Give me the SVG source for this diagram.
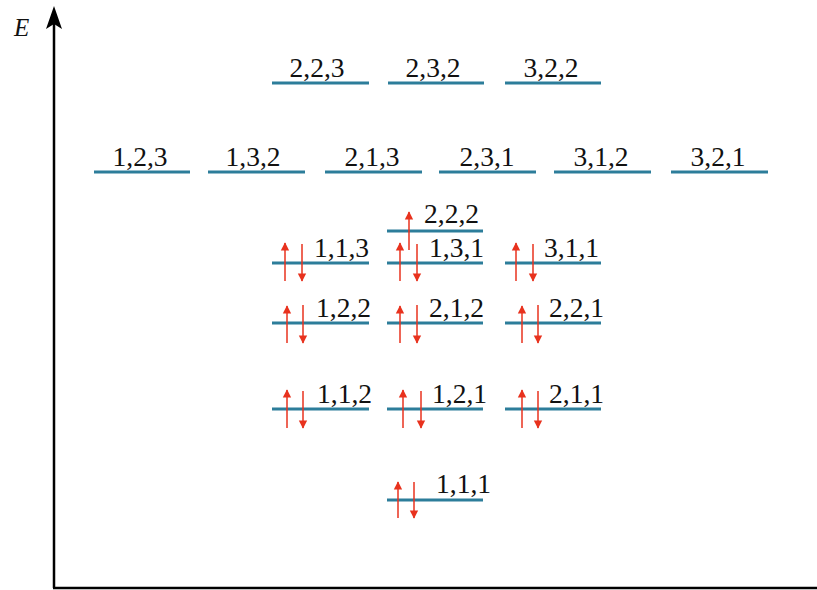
<svg xmlns="http://www.w3.org/2000/svg" width="817" height="590" viewBox="0 0 817 590">
<defs>
<marker id="ah" viewBox="0 0 10 12" refX="9" refY="6" markerWidth="10" markerHeight="10" markerUnits="userSpaceOnUse" orient="auto">
<path d="M0,1 L10,6 L0,11 Z" fill="#e8321e"/>
</marker>
<style>
.lv{stroke:#2c7d9a;stroke-width:3;fill:none}
.t{font-family:"Liberation Serif","Times New Roman",serif;font-size:27.5px;fill:#111}
.c{text-anchor:middle}
.sp{stroke:#e8321e;stroke-width:1.5;fill:none;marker-end:url(#ah)}
.ax{stroke:#000;stroke-width:2.5;fill:none}
.e{font-family:"Liberation Serif","Times New Roman",serif;font-style:italic;font-size:25px;fill:#111}
</style>
</defs>
<rect width="817" height="590" fill="#fff"/>
<g id="axes">
<line class="ax" x1="54" y1="22" x2="54" y2="588"/>
<line class="ax" x1="53" y1="588" x2="817" y2="588"/>
<path d="M54,6 L62,29 L54,24 L46,29 Z" fill="#000"/>
<text class="e" x="14" y="36">E</text>
</g>
<g id="level-223"><line class="lv" x1="272" y1="83" x2="369" y2="83"/><text class="t c" x="317" y="77">2,2,3</text></g>
<g id="level-232"><line class="lv" x1="388" y1="83" x2="484" y2="83"/><text class="t c" x="433" y="77">2,3,2</text></g>
<g id="level-322"><line class="lv" x1="505" y1="83" x2="601" y2="83"/><text class="t c" x="551" y="77">3,2,2</text></g>
<g id="level-123"><line class="lv" x1="94" y1="172" x2="190" y2="172"/><text class="t c" x="140" y="166">1,2,3</text></g>
<g id="level-132"><line class="lv" x1="208" y1="172" x2="305" y2="172"/><text class="t c" x="253" y="166">1,3,2</text></g>
<g id="level-213"><line class="lv" x1="325" y1="172" x2="422" y2="172"/><text class="t c" x="372" y="166">2,1,3</text></g>
<g id="level-231"><line class="lv" x1="439" y1="172" x2="536" y2="172"/><text class="t c" x="487" y="166">2,3,1</text></g>
<g id="level-312"><line class="lv" x1="554" y1="172" x2="651" y2="172"/><text class="t c" x="601" y="166">3,1,2</text></g>
<g id="level-321"><line class="lv" x1="671" y1="172" x2="768" y2="172"/><text class="t c" x="718" y="166">3,2,1</text></g>
<g id="level-222"><line class="lv" x1="387" y1="231" x2="483" y2="231"/><text class="t" x="424" y="223">2,2,2</text></g>
<g id="level-113"><line class="lv" x1="272" y1="263" x2="369" y2="263"/><text class="t" x="314" y="257">1,1,3</text></g>
<g id="level-131"><line class="lv" x1="387" y1="263" x2="483" y2="263"/><text class="t" x="429" y="257">1,3,1</text></g>
<g id="level-311"><line class="lv" x1="505" y1="263" x2="601" y2="263"/><text class="t" x="544" y="257">3,1,1</text></g>
<g id="level-122"><line class="lv" x1="272" y1="323" x2="369" y2="323"/><text class="t" x="316" y="317">1,2,2</text></g>
<g id="level-212"><line class="lv" x1="387" y1="323" x2="483" y2="323"/><text class="t" x="429" y="317">2,1,2</text></g>
<g id="level-221"><line class="lv" x1="505" y1="323" x2="601" y2="323"/><text class="t" x="549" y="317">2,2,1</text></g>
<g id="level-112"><line class="lv" x1="272" y1="409" x2="369" y2="409"/><text class="t" x="317" y="403">1,1,2</text></g>
<g id="level-121"><line class="lv" x1="387" y1="409" x2="483" y2="409"/><text class="t" x="432" y="403">1,2,1</text></g>
<g id="level-211"><line class="lv" x1="505" y1="409" x2="601" y2="409"/><text class="t" x="549" y="403">2,1,1</text></g>
<g id="level-111"><line class="lv" x1="387" y1="500" x2="483" y2="500"/><text class="t" x="436" y="493">1,1,1</text></g>
<g id="spins">
<line class="sp" x1="409" y1="250" x2="409" y2="212"/>
<line class="sp" x1="285" y1="281" x2="285" y2="243"/><line class="sp" x1="302" y1="244" x2="302" y2="281"/>
<line class="sp" x1="400" y1="281" x2="400" y2="243"/><line class="sp" x1="417" y1="244" x2="417" y2="281"/>
<line class="sp" x1="516" y1="281" x2="516" y2="243"/><line class="sp" x1="533" y1="244" x2="533" y2="281"/>
<line class="sp" x1="287" y1="343" x2="287" y2="306"/><line class="sp" x1="303" y1="305" x2="303" y2="343"/>
<line class="sp" x1="400" y1="343" x2="400" y2="306"/><line class="sp" x1="417" y1="305" x2="417" y2="343"/>
<line class="sp" x1="522" y1="343" x2="522" y2="306"/><line class="sp" x1="538" y1="305" x2="538" y2="343"/>
<line class="sp" x1="287" y1="428" x2="287" y2="390"/><line class="sp" x1="303" y1="391" x2="303" y2="428"/>
<line class="sp" x1="403" y1="428" x2="403" y2="390"/><line class="sp" x1="421" y1="391" x2="421" y2="428"/>
<line class="sp" x1="522" y1="428" x2="522" y2="390"/><line class="sp" x1="538" y1="391" x2="538" y2="428"/>
<line class="sp" x1="398" y1="518" x2="398" y2="482"/><line class="sp" x1="414" y1="482" x2="414" y2="518"/>
</g>
</svg>
